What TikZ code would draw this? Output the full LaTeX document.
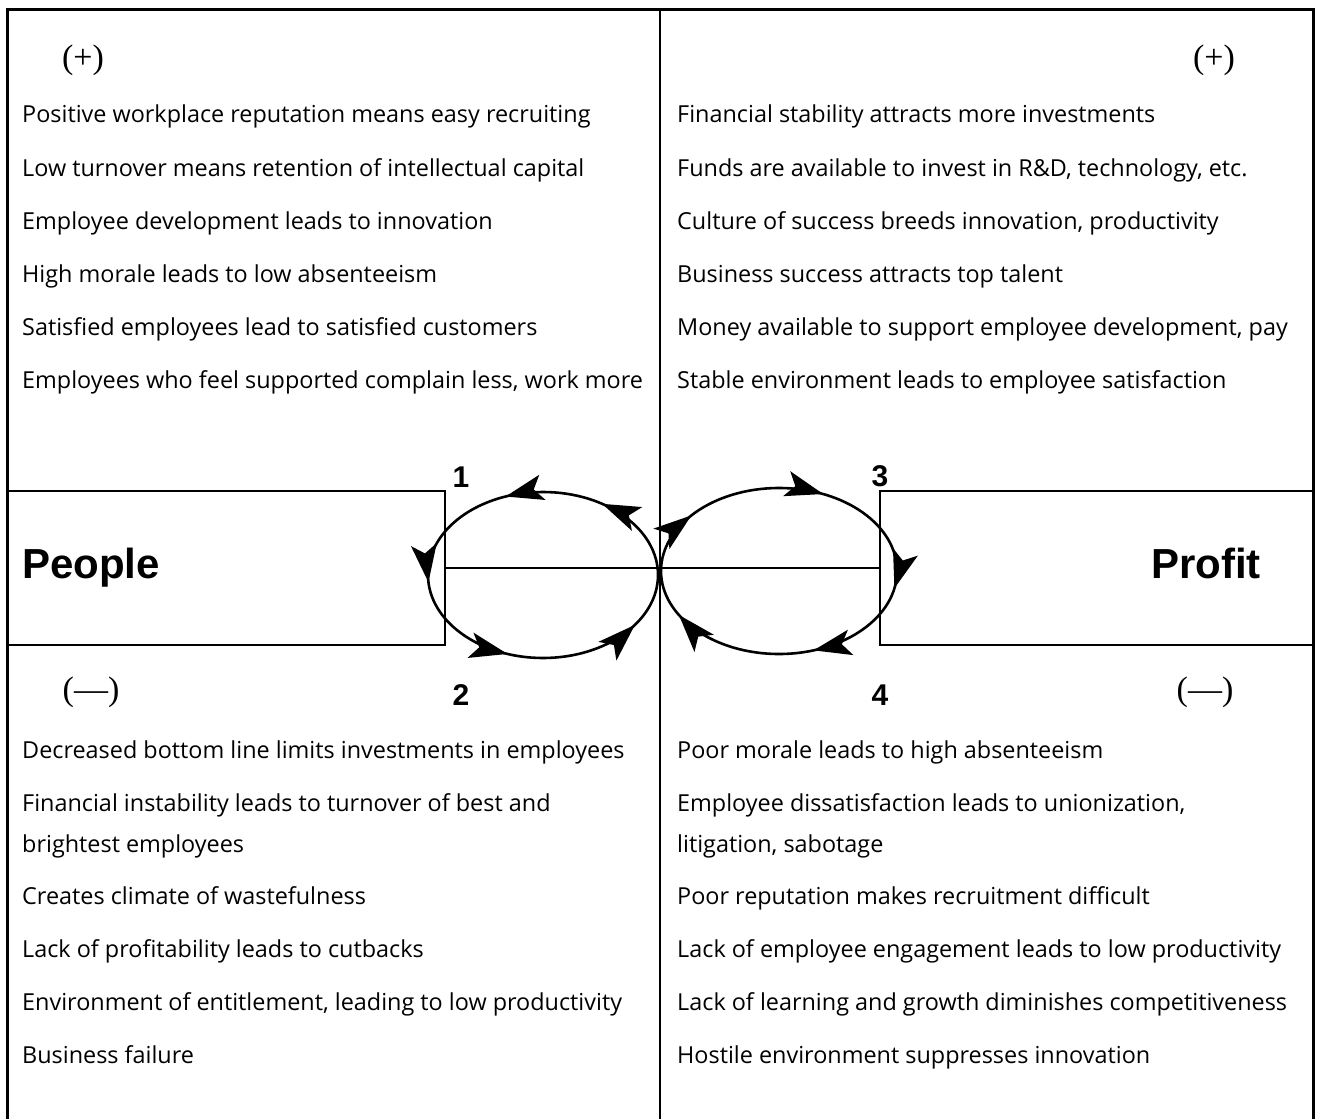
\documentclass[tikz,border=0pt]{standalone}
\usepackage{fontspec}
\setmainfont{Open Sans}
\newfontfamily\headfont{Liberation Sans}
\newfontfamily\signfont{Liberation Serif}
\usetikzlibrary{calc}
\begin{document}
\begin{tikzpicture}[x=1pt,y=1pt,
  frame/.style={line width=3pt},
  divider/.style={line width=2pt},
  sidebox/.style={draw, line width=2.5pt, minimum height=154pt, inner sep=0pt},
  item/.style={anchor=base west, inner sep=0pt, font=\fontsize{23.4}{27}\selectfont},
  sign/.style={inner sep=0pt, font=\signfont\fontsize{34}{40}\selectfont},
  title/.style={inner sep=0pt, font=\headfont\bfseries\fontsize{42}{48}\selectfont},
  num/.style={inner sep=0pt, font=\headfont\bfseries\fontsize{30}{34}\selectfont},
  loopline/.style={line width=2.6pt},
  headtip/.style={fill=black}]
\useasboundingbox (0,0) rectangle (1321,-1118);

% outer frame and central divider
\draw[frame] (7,-1130) -- (7,-10) -- (1313,-10) -- (1313,-1130);
\draw[divider] (660,-10) -- (660,-1130);

% the two side boxes and the axis joining them
\node[sidebox, minimum width=438pt] (people) at (226,-568) {};
\node[sidebox, minimum width=433pt] (profit) at (1096.5,-568) {};
\draw[divider] (people.east) -- (profit.west);
\node[title, anchor=base west] (peoplelbl) at (22,-578) {People};
\node[title, anchor=base east] (profitlbl) at (1261,-578) {Profit};

% quadrant numbers
\node[num] (n1) at (461,-477) {1};
\node[num] (n2) at (461,-695) {2};
\node[num] (n3) at (880,-476) {3};
\node[num] (n4) at (880,-695) {4};

% signs
\node[sign] (plusL) at (83,-60) {(+)};
\node[sign] (plusR) at (1214,-60) {(+)};
\node[sign] (minusL) at (91,-692) {(—)};
\node[sign] (minusR) at (1205,-692) {(—)};

% feedback loops
\coordinate (cL) at (543,-575);
\coordinate (cR) at (779,-571);
\draw[loopline] (cL) ellipse [x radius=115pt, y radius=83pt];
\draw[loopline] (cR) ellipse [x radius=118pt, y radius=83pt];
% left loop runs counterclockwise
\foreach \t in {59,109,185,252,323} {
  \pgfmathsetmacro\ang{atan2(83*cos(\t),-115*sin(\t))}
  \fill[headtip, shift={($(cL)+(\t:115pt and 83pt)$)}, rotate=\ang]
    (0,0) -- (-38,13) -- (-29,0) -- (-38,-13) -- cycle;
}
% right loop runs clockwise
\foreach \t in {138,68,348,287,212} {
  \pgfmathsetmacro\ang{atan2(-83*cos(\t),118*sin(\t))}
  \fill[headtip, shift={($(cR)+(\t:118pt and 83pt)$)}, rotate=\ang]
    (0,0) -- (-38,13) -- (-29,0) -- (-38,-13) -- cycle;
}

% upper left quadrant
\node[item] (ul1) at (22,-123) {Positive workplace reputation means easy recruiting};
\node[item] (ul2) at (22,-176) {Low turnover means retention of intellectual capital};
\node[item] (ul3) at (22,-229) {Employee development leads to innovation};
\node[item] (ul4) at (22,-282) {High morale leads to low absenteeism};
\node[item] (ul5) at (22,-335) {Satisfied employees lead to satisfied customers};
\node[item] (ul6) at (22,-388) {Employees who feel supported complain less, work more};

% upper right quadrant
\node[item] (ur1) at (677,-123) {Financial stability attracts more investments};
\node[item] (ur2) at (677,-176) {Funds are available to invest in R\&D, technology, etc.};
\node[item] (ur3) at (677,-229) {Culture of success breeds innovation, productivity};
\node[item] (ur4) at (677,-282) {Business success attracts top talent};
\node[item] (ur5) at (677,-335) {Money available to support employee development, pay};
\node[item] (ur6) at (677,-388) {Stable environment leads to employee satisfaction};

% lower left quadrant
\node[item] (ll1) at (22,-758) {Decreased bottom line limits investments in employees};
\node[item] (ll2) at (22,-811) {Financial instability leads to turnover of best and};
\node[item] (ll2b) at (22,-852) {brightest employees};
\node[item] (ll3) at (22,-904) {Creates climate of wastefulness};
\node[item] (ll4) at (22,-957) {Lack of profitability leads to cutbacks};
\node[item] (ll5) at (22,-1010) {Environment of entitlement, leading to low productivity};
\node[item] (ll6) at (22,-1063) {Business failure};

% lower right quadrant
\node[item] (lr1) at (677,-758) {Poor morale leads to high absenteeism};
\node[item] (lr2) at (677,-811) {Employee dissatisfaction leads to unionization,};
\node[item] (lr2b) at (677,-852) {litigation, sabotage};
\node[item] (lr3) at (677,-904) {Poor reputation makes recruitment difficult};
\node[item] (lr4) at (677,-957) {Lack of employee engagement leads to low productivity};
\node[item] (lr5) at (677,-1010) {Lack of learning and growth diminishes competitiveness};
\node[item] (lr6) at (677,-1063) {Hostile environment suppresses innovation};
\end{tikzpicture}
\end{document}
